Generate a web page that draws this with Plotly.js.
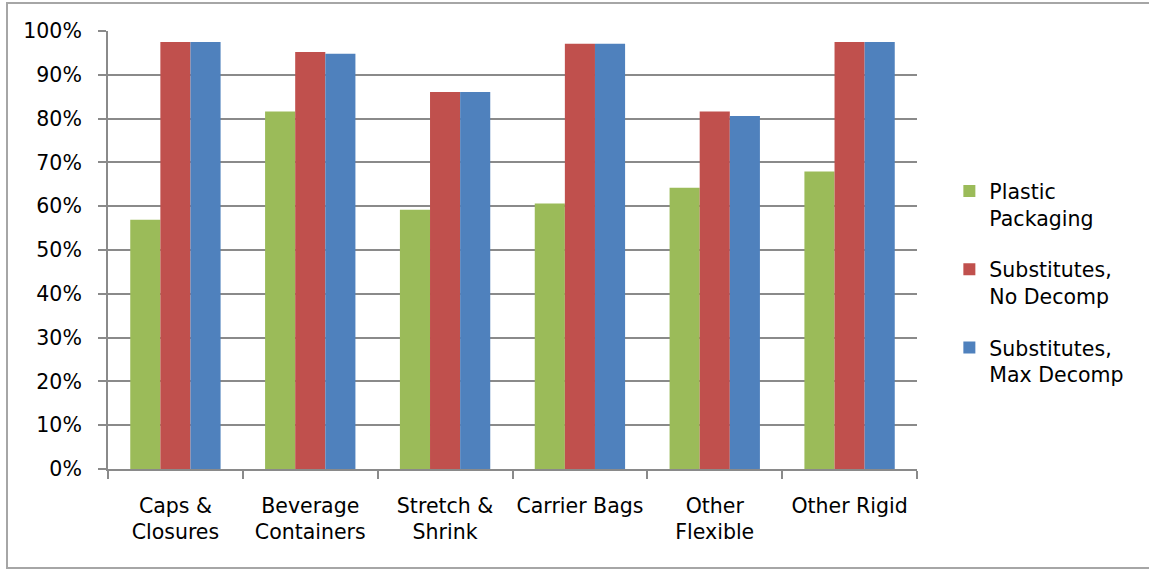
<!DOCTYPE html>
<html>
<head>
<meta charset="utf-8">
<script src="https://cdn.plot.ly/plotly-3.0.1.min.js"></script>
<style>
  html, body { margin: 0; padding: 0; background: #fff; }
  #chart { position: absolute; left: 0; top: 0; width: 1149px; height: 569px; }
  #frame { position: absolute; left: 6px; top: 2px; width: 1160px; height: 563px;
           border: 2px solid #a6a6a6; pointer-events: none; }
</style>
</head>
<body>
<div id="chart"></div>
<div id="frame"></div>
<script>
const categories = ["Caps &<br>Closures", "Beverage<br>Containers", "Stretch &<br>Shrink", "Carrier Bags", "Other<br>Flexible", "Other Rigid"];
const seriesNames = ["Plastic<br>Packaging", "Substitutes,<br>No Decomp", "Substitutes,<br>Max Decomp"];
const plasticPackaging = [0.569, 0.816, 0.592, 0.606, 0.642, 0.679];
const substitutesNoDecomp = [0.975, 0.952, 0.861, 0.971, 0.816, 0.975];
const substitutesMaxDecomp = [0.975, 0.948, 0.861, 0.971, 0.806, 0.975];
const colors = ["#9BBB59", "#C0504D", "#4F81BD"];

const font = "DejaVu Sans, sans-serif";
const fs = 20.5;
const values = [plasticPackaging, substitutesNoDecomp, substitutesMaxDecomp];
const traces = values.map((v, i) => ({
  type: "bar",
  x: categories,
  y: v,
  name: seriesNames[i],
  legendgroup: "g" + i,
  marker: { color: colors[i], line: { width: 0 } },
  hoverinfo: "x+y+name"
}));

const layout = {
  width: 1149, height: 569,
  margin: { l: 108, r: 232, t: 31, b: 100, pad: 0 },
  paper_bgcolor: "#ffffff",
  plot_bgcolor: "#ffffff",
  barmode: "group",
  bargap: 0.33,
  bargroupgap: 0,
  font: { family: font, size: fs, color: "#000000" },
  showlegend: true,
  legend: {
    x: 1.04, xanchor: "left", y: 0.68, yanchor: "top",
    font: { family: font, size: fs, color: "#000" },
    tracegroupgap: 22, valign: "top", itemwidth: 30,
    bgcolor: "rgba(0,0,0,0)"
  },
  xaxis: {
    type: "category",
    tickangle: 0,
    showline: true, linecolor: "#8a8a8a", linewidth: 2,
    ticks: "outside", tickson: "boundaries", ticklen: 8, tickcolor: "#8a8a8a", tickwidth: 2,
    ticklabelstandoff: 17,
    showgrid: false, zeroline: false,
    tickfont: { family: font, size: fs, color: "#000" }
  },
  yaxis: {
    range: [0, 1], dtick: 0.1, tick0: 0, tickformat: ".0%",
    showline: true, linecolor: "#8a8a8a", linewidth: 2,
    ticks: "outside", ticklen: 8, tickcolor: "#8a8a8a", tickwidth: 2,
    ticklabelstandoff: 12,
    showgrid: true, gridcolor: "#8a8a8a", gridwidth: 2,
    zeroline: false,
    tickfont: { family: font, size: fs, color: "#000" }
  }
};

Plotly.newPlot("chart", traces, layout, { displayModeBar: false, staticPlot: true });
</script>
</body>
</html>
